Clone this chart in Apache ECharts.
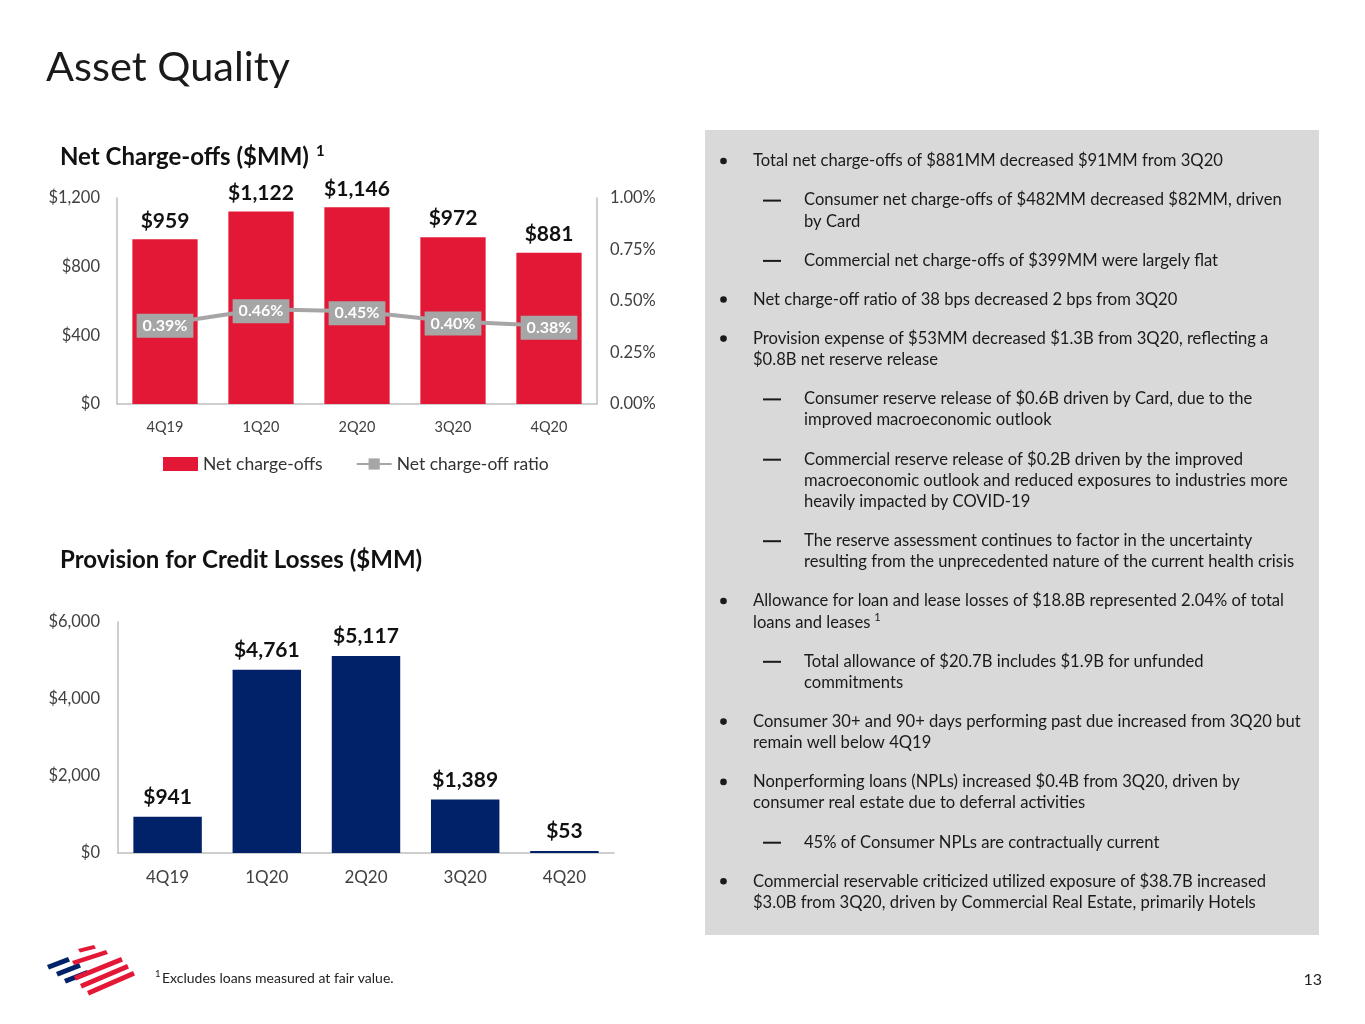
<!DOCTYPE html>
<html><head><meta charset="utf-8">
<script src="https://cdn.jsdelivr.net/npm/echarts@6/dist/echarts.min.js"></script>
<style>html,body{margin:0;padding:0;background:#fff}#c{width:1365px;height:1024px}</style>
</head><body><div id="c"></div>
<script>
const categories = ['4Q19', '1Q20', '2Q20', '3Q20', '4Q20'];
const netChargeOffs = [959, 1122, 1146, 972, 881];
const ncoRatio = [0.39, 0.46, 0.45, 0.40, 0.38];
const provision = [941, 4761, 5117, 1389, 53];

// [level, lines, footnote-marker-on-last-line]
const bulletParas = [
  [0, ['Total net charge-offs of $881MM decreased $91MM from 3Q20']],
  [1, ['Consumer net charge-offs of $482MM decreased $82MM, driven', 'by Card']],
  [1, ['Commercial net charge-offs of $399MM were largely flat']],
  [0, ['Net charge-off ratio of 38 bps decreased 2 bps from 3Q20']],
  [0, ['Provision expense of $53MM decreased $1.3B from 3Q20, reflecting a', '$0.8B net reserve release']],
  [1, ['Consumer reserve release of $0.6B driven by Card, due to the', 'improved macroeconomic outlook']],
  [1, ['Commercial reserve release of $0.2B driven by the improved', 'macroeconomic outlook and reduced exposures to industries more', 'heavily impacted by COVID-19']],
  [1, ['The reserve assessment continues to factor in the uncertainty', 'resulting from the unprecedented nature of the current health crisis']],
  [0, ['Allowance for loan and lease losses of $18.8B represented 2.04% of total', 'loans and leases'], '1'],
  [1, ['Total allowance of $20.7B includes $1.9B for unfunded', 'commitments']],
  [0, ['Consumer 30+ and 90+ days performing past due increased from 3Q20 but', 'remain well below 4Q19']],
  [0, ['Nonperforming loans (NPLs) increased $0.4B from 3Q20, driven by', 'consumer real estate due to deferral activities']],
  [1, ['45% of Consumer NPLs are contractually current']],
  [0, ['Commercial reservable criticized utilized exposure of $38.7B increased', '$3.0B from 3Q20, driven by Commercial Real Estate, primarily Hotels']]
];

const FONT = 'Lato, "Open Sans", sans-serif';
const RED = '#E31837', NAVY = '#012169', GREY = '#A6A6A6', AXIS = '#BFBFBF', LBL = '#404040', INK = '#1a1a1a';
const fmtMoney = v => '$' + Math.round(v).toLocaleString('en-US');
const mctx = document.createElement('canvas').getContext('2d');
function textW(txt, font) { mctx.font = font; return mctx.measureText(txt).width; }

const graphics = [];
graphics.push({type: 'rect', shape: {x: 705, y: 130, width: 614, height: 805}, style: {fill: '#D9D9D9'}, z: 0});
const BODY = '16.6px ' + FONT;
let y = 161;
bulletParas.forEach((p, i) => {
  if (i > 0) y += 39.1;
  const lvl = p[0];
  if (lvl) graphics.push({type: 'rect', shape: {x: 763, y: y - 0.5, width: 18, height: 2}, style: {fill: INK}, z: 2});
  else graphics.push({type: 'circle', shape: {cx: 723.5, cy: y, r: 3.3}, style: {fill: INK}, z: 2});
  const x0 = lvl ? 804 : 753;
  p[1].forEach((ln, j) => {
    if (j > 0) y += 21.2;
    graphics.push({type: 'text', style: {x: x0, y: y, text: ln, font: BODY, fill: INK, textVerticalAlign: 'middle'}, z: 2});
    if (p[2] && j === p[1].length - 1) {
      graphics.push({type: 'text', style: {x: x0 + textW(ln, BODY) + 4, y: y - 5, text: p[2], font: '11px ' + FONT, fill: INK, textVerticalAlign: 'middle'}, z: 2});
    }
  });
});

// Titles
graphics.push({type: 'text', style: {x: 46, y: 68, text: 'Asset Quality', font: '41.5px ' + FONT, fill: INK, textVerticalAlign: 'middle'}});
const T1 = 'Net Charge-offs ($MM)', TF = 'bold 24px ' + FONT;
graphics.push({type: 'text', style: {x: 60, y: 157, text: T1, font: TF, fill: '#111', textVerticalAlign: 'middle'}});
graphics.push({type: 'text', style: {x: 60 + textW(T1, TF) + 7, y: 151, text: '1', font: 'bold 15px ' + FONT, fill: '#111', textVerticalAlign: 'middle'}});
graphics.push({type: 'text', style: {x: 60, y: 560, text: 'Provision for Credit Losses ($MM)', font: TF, fill: '#111', textVerticalAlign: 'middle'}});
// Footer
graphics.push({type: 'text', style: {x: 155, y: 974, text: '1', font: '9.5px ' + FONT, fill: '#222', textVerticalAlign: 'middle'}});
graphics.push({type: 'text', style: {x: 162, y: 978, text: 'Excludes loans measured at fair value.', font: '14px ' + FONT, fill: '#222', textVerticalAlign: 'middle'}});
graphics.push({type: 'text', style: {x: 1322, y: 980, text: '13', font: '16px ' + FONT, fill: '#222', textAlign: 'right', textVerticalAlign: 'middle'}});
// Logo stripes
function stripe(x1, y1, x2, y2, t, col) {
  return {type: 'polygon', shape: {points: [[x1, y1], [x2, y2], [x2 + 2, y2 + t], [x1 + 2, y1 + t]]}, style: {fill: col}};
}
graphics.push(stripe(47, 965, 68, 957, 4.5, NAVY));
graphics.push(stripe(56, 972, 79, 963, 4.5, NAVY));
graphics.push(stripe(64, 979, 87, 970, 4.5, NAVY));
graphics.push(stripe(78, 949, 94, 945, 3.5, RED));
graphics.push(stripe(72, 961, 106, 950, 4, RED));
graphics.push(stripe(74, 976, 121, 957, 4.5, RED));
graphics.push(stripe(80, 984, 127, 964, 4.5, RED));
graphics.push(stripe(87, 991, 133, 971, 4.5, RED));

const chart = echarts.init(document.getElementById('c'), null, {renderer: 'canvas'});
chart.setOption({
  backgroundColor: '#fff',
  animation: false,
  textStyle: {fontFamily: FONT},
  legend: {
    left: 158, top: 450, itemWidth: 35, itemHeight: 14, itemGap: 33,
    textStyle: {fontSize: 17.5, color: '#333', fontFamily: FONT},
    data: [{name: 'Net charge-offs', icon: 'rect'}, {name: 'Net charge-off ratio'}]
  },
  grid: [
    {left: 117, top: 198, width: 480, height: 206},
    {left: 118, top: 622, width: 496, height: 231}
  ],
  xAxis: [
    {type: 'category', gridIndex: 0, data: categories,
     axisLine: {lineStyle: {color: AXIS, width: 1.5}}, axisTick: {show: false},
     axisLabel: {color: LBL, fontSize: 14.5, margin: 16, fontFamily: FONT}},
    {type: 'category', gridIndex: 1, data: categories,
     axisLine: {lineStyle: {color: AXIS, width: 1.5}}, axisTick: {show: false},
     axisLabel: {color: LBL, fontSize: 17, margin: 16, fontFamily: FONT}}
  ],
  yAxis: [
    {type: 'value', gridIndex: 0, min: 0, max: 1200, interval: 400,
     axisLine: {show: true, lineStyle: {color: AXIS, width: 1.5}}, axisTick: {show: false}, splitLine: {show: false},
     axisLabel: {color: LBL, fontSize: 16.5, margin: 17, formatter: fmtMoney, fontFamily: FONT}},
    {type: 'value', gridIndex: 0, position: 'right', min: 0, max: 1, interval: 0.25,
     axisLine: {show: true, lineStyle: {color: AXIS, width: 1.5}}, axisTick: {show: false}, splitLine: {show: false},
     axisLabel: {color: LBL, fontSize: 16.5, margin: 13, formatter: v => v.toFixed(2) + '%', fontFamily: FONT}},
    {type: 'value', gridIndex: 1, min: 0, max: 6000, interval: 2000,
     axisLine: {show: true, lineStyle: {color: AXIS, width: 1.5}}, axisTick: {show: false}, splitLine: {show: false},
     axisLabel: {color: LBL, fontSize: 16.5, margin: 18, formatter: fmtMoney, fontFamily: FONT}}
  ],
  series: [
    {name: 'Net charge-offs', type: 'bar', xAxisIndex: 0, yAxisIndex: 0, data: netChargeOffs, barWidth: '68%',
     itemStyle: {color: RED},
     label: {show: true, position: 'top', distance: 8, formatter: p => fmtMoney(p.value), fontSize: 21, fontWeight: 'bold', color: '#111', fontFamily: FONT}},
    {name: 'Net charge-off ratio', type: 'line', xAxisIndex: 0, yAxisIndex: 1, data: ncoRatio,
     symbol: 'rect', symbolSize: 8, lineStyle: {color: GREY, width: 4}, itemStyle: {color: GREY}, z: 5,
     label: {show: true, position: 'inside', offset: [0, 2], formatter: p => p.value.toFixed(2) + '%', backgroundColor: GREY,
             color: '#fff', fontWeight: 'bold', fontSize: 16, padding: [4, 6], fontFamily: FONT}},
    {name: 'Provision', type: 'bar', xAxisIndex: 1, yAxisIndex: 2, data: provision, barWidth: '69%',
     itemStyle: {color: NAVY},
     label: {show: true, position: 'top', distance: 9, formatter: p => fmtMoney(p.value), fontSize: 21, fontWeight: 'bold', color: '#111', fontFamily: FONT}}
  ],
  graphic: graphics
});
</script>
</body></html>
